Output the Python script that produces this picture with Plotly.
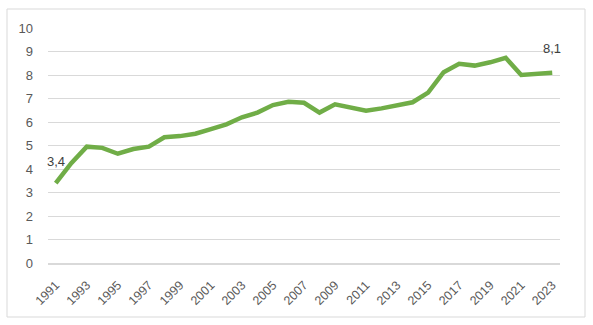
import plotly.graph_objects as go

years = [str(y) for y in range(1991, 2024)]
values = [3.4, 4.25, 4.95, 4.9, 4.65, 4.85, 4.95, 5.35, 5.4, 5.5, 5.7, 5.9,
          6.2, 6.4, 6.72, 6.86, 6.82, 6.4, 6.75, 6.6, 6.48, 6.58, 6.7, 6.84,
          7.25, 8.12, 8.48, 8.4, 8.54, 8.73, 8.0, 8.04, 8.1]
tick_labels = years[::2]

fig = go.Figure()
fig.add_trace(go.Scatter(
    x=years, y=values, mode="lines",
    line=dict(color="#70AD47", width=4.5),
    cliponaxis=False, hoverinfo="x+y",
))

def fmt(v):
    return f"{v:.1f}".replace(".", ",")

first, last = 0, len(years) - 1
annotations = [
    dict(x=first, y=values[first], text=fmt(values[first]), showarrow=False,
         yanchor="bottom", xanchor="center", yshift=12,
         font=dict(family="Liberation Sans", size=13, color="#404040")),
    dict(x=last, y=values[last], text=fmt(values[last]), showarrow=False,
         yanchor="bottom", xanchor="center", yshift=15,
         font=dict(family="Liberation Sans", size=13, color="#404040")),
]

fig.update_layout(
    width=593, height=325,
    margin=dict(l=48, r=33, t=28, b=62),
    paper_bgcolor="white", plot_bgcolor="white",
    showlegend=False,
    font=dict(family="Liberation Sans", size=13, color="#595959"),
    xaxis=dict(type="category", range=[-0.5, len(years) - 0.5],
               tickvals=tick_labels, ticktext=tick_labels, tickangle=-45,
               showgrid=False, showline=True, linecolor="#D9D9D9", linewidth=2,
               ticks="", tickfont=dict(size=12.5), ticklabelstandoff=8),
    yaxis=dict(range=[0, 10], dtick=1, showgrid=True, gridcolor="#D9D9D9",
               gridwidth=1, zeroline=False, ticks="", ticklabelstandoff=14),
    annotations=annotations,
    shapes=[dict(type="rect", xref="paper", yref="paper",
                 x0=(7 - 48) / 512, x1=(585 - 48) / 512,
                 y0=(263 - 317) / 235, y1=(263 - 9) / 235,
                 line=dict(color="#D9D9D9", width=1), layer="below")],
)

fig.write_html("out.html")
